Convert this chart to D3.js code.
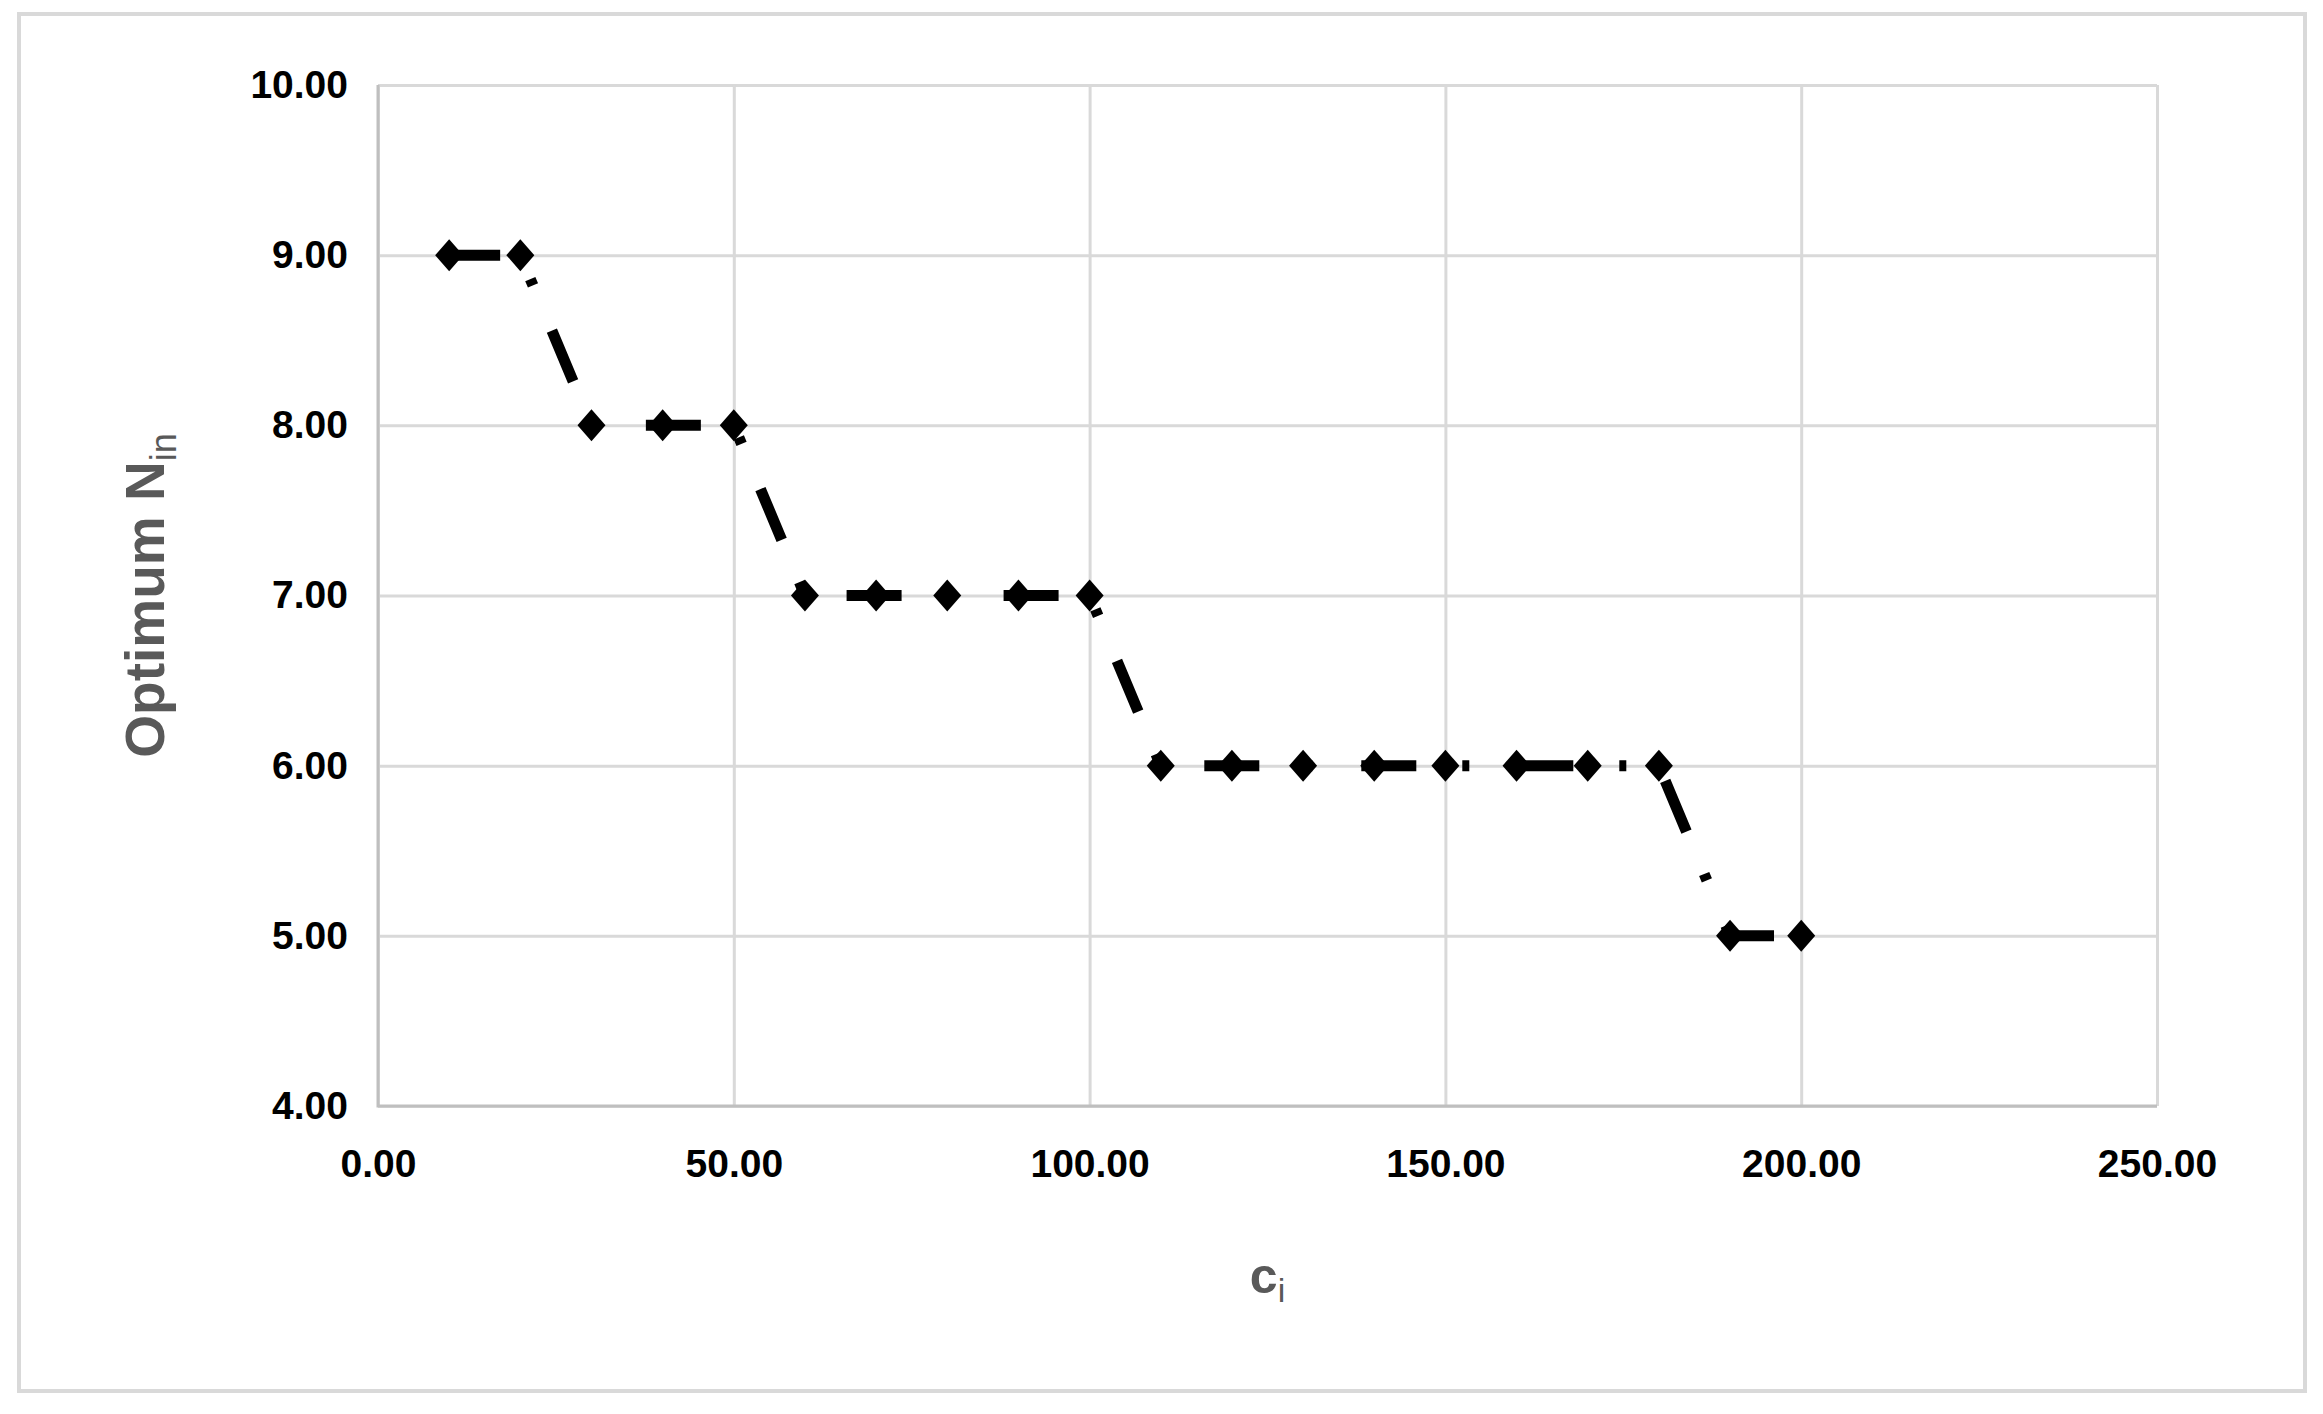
<!DOCTYPE html>
<html>
<head>
<meta charset="utf-8">
<script src="https://cdn.jsdelivr.net/npm/d3@7"></script>
<style>
  body { margin: 0; background: #ffffff; }
  svg { display: block; }
</style>
</head>
<body>
<svg id="mainsvg" width="2323" height="1414"></svg>
<script>
// data
const ciValues = [10, 20, 30, 40, 50, 60, 70, 80, 90, 100, 110, 120, 130, 140, 150, 160, 170, 180, 190, 200]
const optimumNin = [9, 9, 8, 8, 8, 7, 7, 7, 7, 7, 6, 6, 6, 6, 6, 6, 6, 6, 5, 5]
const xTicks = [0, 50, 100, 150, 200, 250]
const yTicks = [4, 5, 6, 7, 8, 9, 10]

const fontFamily = "'Liberation Sans', Arial, Helvetica, sans-serif"
const gridColor = '#d9d9d9'
const axisColor = '#bfbfbf'
const titleColor = '#595959'

const plot = {left: 378, right: 2157, top: 85, bottom: 1106}

const svg = d3.select('#mainsvg')

// outer chart frame
svg.append('rect')
    .attr('x', 19)
    .attr('y', 14)
    .attr('width', 2286)
    .attr('height', 1377)
    .attr('fill', '#ffffff')
    .attr('stroke', gridColor)
    .attr('stroke-width', 4)

const x = d3.scaleLinear().domain([0, 250]).range([plot.left, plot.right])
const y = d3.scaleLinear().domain([4, 10]).range([plot.bottom, plot.top])

// y axis + horizontal grid
const yAxis = svg.append('g')
    .attr('transform', `translate(${plot.left},0)`)
    .call(d3.axisLeft(y).tickValues(yTicks).tickFormat(d3.format('.2f'))
        .tickSize(-(plot.right - plot.left)).tickPadding(30))
yAxis.select('.domain').remove()
yAxis.selectAll('.tick line')
    .attr('stroke', gridColor)
    .attr('stroke-width', 3)
yAxis.selectAll('.tick text')
    .attr('fill', '#000000')
    .style('font-family', fontFamily)
    .style('font-weight', 'bold')
    .style('font-size', '39px')

// x axis + vertical grid
const xAxis = svg.append('g')
    .attr('transform', `translate(0,${plot.bottom})`)
    .call(d3.axisBottom(x).tickValues(xTicks).tickFormat(d3.format('.2f'))
        .tickSize(-(plot.bottom - plot.top)).tickPadding(43))
xAxis.select('.domain').remove()
xAxis.selectAll('.tick line')
    .attr('stroke', gridColor)
    .attr('stroke-width', 3)
xAxis.selectAll('.tick text')
    .attr('fill', '#000000')
    .style('font-family', fontFamily)
    .style('font-weight', 'bold')
    .style('font-size', '39px')

// left and bottom edges of the plot area are a bit darker
svg.append('path')
    .attr('d', `M${plot.left},${plot.top} L${plot.left},${plot.bottom} L${plot.right},${plot.bottom}`)
    .attr('fill', 'none')
    .attr('stroke', axisColor)
    .attr('stroke-width', 3)

const points = ciValues.map((c, i) => [c, optimumNin[i]])

// long dash-dot line
const line = d3.line().x(d => x(d[0])).y(d => y(d[1]))
svg.append('path')
    .datum(points)
    .attr('d', line)
    .attr('fill', 'none')
    .attr('stroke', '#000000')
    .attr('stroke-width', 11)
    .attr('stroke-dasharray', '55,46,7,49')
    .attr('stroke-dashoffset', 4)
    .attr('stroke-linejoin', 'round')

// diamond markers
svg.append('g').selectAll('path')
    .data(points)
    .join('path')
    .attr('transform', d => `translate(${x(d[0])},${y(d[1])})`)
    .attr('d', 'M0,-16 L14,0 L0,16 L-14,0 Z')
    .attr('fill', '#000000')

// axis titles
const yTitle = svg.append('text')
    .attr('transform', `translate(164,${(plot.top + plot.bottom) / 2}) rotate(-90)`)
    .attr('text-anchor', 'middle')
    .attr('fill', titleColor)
    .style('font-family', fontFamily)
    .style('font-weight', 'bold')
    .style('font-size', '55px')
yTitle.append('tspan').text('Optimum N')
yTitle.append('tspan')
    .attr('dy', 12)
    .style('font-size', '36px')
    .style('font-weight', 'normal')
    .text('in')

const xTitle = svg.append('text')
    .attr('x', (plot.left + plot.right) / 2)
    .attr('y', 1293)
    .attr('text-anchor', 'middle')
    .attr('fill', titleColor)
    .style('font-family', fontFamily)
    .style('font-weight', 'bold')
    .style('font-size', '50px')
xTitle.append('tspan').text('c')
xTitle.append('tspan')
    .attr('dy', 9)
    .style('font-size', '34px')
    .style('font-weight', 'normal')
    .text('i')
</script>
</body>
</html>
